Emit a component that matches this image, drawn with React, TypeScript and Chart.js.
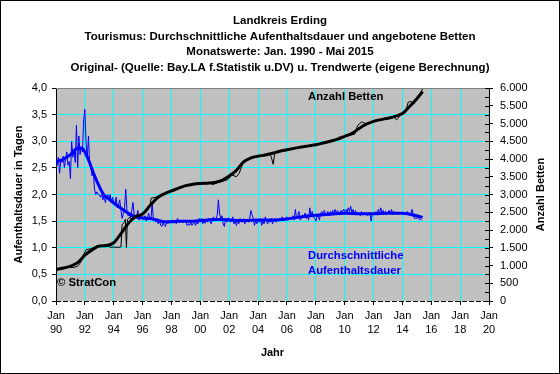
import React, { useEffect, useRef } from 'react';
import { Chart, registerables } from 'chart.js';

Chart.register(...registerables);

const FONT = '"Liberation Sans", Arial, sans-serif';

const TITLE_LINES = [
  'Landkreis Erding',
  'Tourismus: Durchschnittliche Aufenthaltsdauer und angebotene Betten',
  'Monatswerte: Jan. 1990 - Mai 2015',
  'Original- (Quelle: Bay.LA f.Statistik u.DV) u. Trendwerte (eigene Berechnung)',
];
const LEFT_AXIS_TITLE = 'Aufenthaltsdauer in Tagen';
const RIGHT_AXIS_TITLE = 'Anzahl Betten';
const X_AXIS_TITLE = 'Jahr';
const LABEL_BEDS = 'Anzahl Betten';
const LABEL_DUR = ['Durchschnittliche', 'Aufenthaltsdauer'];
const COPYRIGHT = '© StratCon';

const X_MIN = 1990;
const X_MAX = 2020;
const X_STEP = 2;
const Y_LEFT_MAX = 4;
const Y_LEFT_STEP = 0.5;
const Y_RIGHT_MAX = 6000;
const Y_RIGHT_STEP = 500;

// Monthly average length of stay (days), Jan 1990 - May 2015
const DUR_START_YEAR = 1990;
const durRaw = [
  2.62, 2.55, 2.70, 2.40, 2.65, 2.60, 2.72, 2.50, 2.68, 2.80, 2.55, 2.62,
  2.30, 3.00, 2.70, 2.85, 2.60, 3.30, 2.50, 3.10, 2.75, 2.90, 2.80, 3.40,
  3.60, 2.95, 2.70, 3.10, 2.55, 2.50, 2.35, 2.45, 2.10, 2.00, 2.05, 2.00,
  2.00, 1.95, 2.00, 1.90, 2.00, 1.85, 1.95, 2.00, 1.90, 2.00, 1.85, 1.95,
  1.85, 1.80, 1.95, 1.75, 1.80, 1.90, 1.70, 1.55, 1.65, 1.75, 2.10, 1.70,
  1.60, 1.65, 1.55, 1.70, 1.85, 1.62, 1.60, 1.55, 1.70, 1.52, 1.62, 1.55,
  1.58, 1.52, 1.60, 1.50, 1.55, 1.65, 1.52, 1.55, 1.85, 1.50, 1.55, 1.48,
  1.50, 1.45, 1.52, 1.42, 1.40, 1.48, 1.42, 1.40, 1.50, 1.45, 1.52, 1.48,
  1.50, 1.52, 1.48, 1.50, 1.45, 1.55, 1.50, 1.48, 1.52, 1.50, 1.47, 1.50,
  1.52, 1.42, 1.45, 1.42, 1.48, 1.42, 1.45, 1.50, 1.42, 1.48, 1.45, 1.55,
  1.48, 1.55, 1.45, 1.50, 1.46, 1.53, 1.48, 1.55, 1.50, 1.45, 1.52, 1.58,
  1.50, 1.55, 1.60, 1.90, 1.65, 1.55, 1.60, 1.45, 1.40, 1.55, 1.48, 1.56,
  1.55, 1.48, 1.52, 1.58, 1.45, 1.50, 1.42, 1.52, 1.45, 1.55, 1.50, 1.48,
  1.55, 1.45, 1.52, 1.50, 1.48, 1.55, 1.70, 1.62, 1.55, 1.42, 1.50, 1.45,
  1.52, 1.48, 1.55, 1.42, 1.50, 1.45, 1.58, 1.50, 1.45, 1.52, 1.48, 1.55,
  1.45, 1.50, 1.55, 1.48, 1.52, 1.50, 1.55, 1.52, 1.58, 1.55, 1.53, 1.56,
  1.58, 1.52, 1.55, 1.57, 1.55, 1.60, 1.52, 1.72, 1.55, 1.60, 1.68, 1.52,
  1.55, 1.62, 1.58, 1.65, 1.55, 1.60, 1.52, 1.75, 1.60, 1.68, 1.58, 1.55,
  1.50, 1.58, 1.62, 1.52, 1.65, 1.68, 1.62, 1.70, 1.65, 1.62, 1.68, 1.60,
  1.68, 1.62, 1.70, 1.65, 1.72, 1.66, 1.70, 1.68, 1.64, 1.70, 1.66, 1.72,
  1.68, 1.72, 1.66, 1.75, 1.68, 1.78, 1.65, 1.72, 1.64, 1.70, 1.62, 1.66,
  1.65, 1.60, 1.68, 1.62, 1.66, 1.64, 1.65, 1.60, 1.62, 1.66, 1.50, 1.64,
  1.65, 1.62, 1.68, 1.63, 1.72, 1.65, 1.75, 1.65, 1.70, 1.64, 1.68, 1.62,
  1.66, 1.70, 1.64, 1.72, 1.62, 1.68, 1.64, 1.66, 1.62, 1.67, 1.64, 1.66,
  1.65, 1.63, 1.66, 1.62, 1.68, 1.64, 1.66, 1.62, 1.72, 1.64, 1.55, 1.55,
  1.55, 1.60, 1.53, 1.54, 1.52,
];

// Trend of the average length of stay: [year, days]
const durTrend: [number, number][] = [
  [1990.0, 2.62], [1990.5, 2.66], [1991.0, 2.75], [1991.5, 2.87], [1991.8, 2.87],
  [1992.0, 2.80], [1992.3, 2.62], [1992.6, 2.40], [1993.0, 2.15], [1993.3, 2.00],
  [1993.6, 1.93], [1994.0, 1.84], [1994.5, 1.74], [1995.0, 1.65], [1995.5, 1.58],
  [1996.0, 1.56], [1996.5, 1.55], [1997.0, 1.52], [1997.5, 1.49], [1998.0, 1.49],
  [1998.5, 1.50], [1999.0, 1.50], [1999.5, 1.50], [2000.0, 1.51], [2000.5, 1.52],
  [2001.0, 1.53], [2001.5, 1.53], [2002.0, 1.52], [2003.0, 1.51], [2004.0, 1.52],
  [2005.0, 1.52], [2006.0, 1.54], [2007.0, 1.58], [2007.5, 1.60], [2008.0, 1.61],
  [2009.0, 1.63], [2010.0, 1.65], [2011.0, 1.64], [2012.0, 1.64], [2013.0, 1.65],
  [2014.0, 1.65], [2014.5, 1.63], [2015.0, 1.60], [2015.4, 1.57],
];

// Offered beds, original values: [year, beds]
const bedsRaw: [number, number][] = [
  [1990.0, 860], [1990.3, 900], [1990.6, 910], [1990.9, 950], [1991.2, 940],
  [1991.5, 980], [1991.7, 1080], [1991.9, 1300], [1992.1, 1450], [1992.4, 1470],
  [1992.6, 1510], [1992.9, 1560], [1993.2, 1560], [1993.5, 1560], [1993.8, 1510],
  [1994.0, 1520], [1994.3, 1510], [1994.5, 1520], [1994.58, 2150], [1994.7, 2200],
  [1994.8, 2300], [1994.88, 1500], [1994.95, 2300], [1995.1, 2350], [1995.3, 2400],
  [1995.6, 2420], [1995.9, 2440], [1996.2, 2500], [1996.5, 2700], [1996.6, 2900],
  [1996.9, 2920], [1997.1, 2950], [1997.4, 3000], [1997.8, 3080], [1998.2, 3120],
  [1998.6, 3180], [1999.0, 3240], [1999.4, 3280], [1999.8, 3300], [2000.2, 3300],
  [2000.6, 3320], [2000.9, 3280], [2001.2, 3340], [2001.6, 3380], [2001.9, 3420],
  [2002.2, 3550], [2002.5, 3500], [2002.7, 3600], [2003.0, 3950], [2003.3, 4000],
  [2003.6, 4020], [2004.0, 4080], [2004.4, 4100], [2004.7, 4150], [2004.9, 4080],
  [2005.05, 3850], [2005.15, 4150], [2005.4, 4200], [2005.8, 4230], [2006.3, 4280],
  [2006.8, 4320], [2007.3, 4360], [2007.8, 4390], [2008.3, 4420], [2008.8, 4480],
  [2009.3, 4520], [2009.8, 4600], [2010.3, 4660], [2010.7, 4700], [2010.9, 4950],
  [2011.2, 5050], [2011.5, 4980], [2011.8, 5020], [2012.2, 5080], [2012.6, 5120],
  [2013.0, 5150], [2013.4, 5180], [2013.6, 5100], [2013.9, 5250], [2014.2, 5300],
  [2014.4, 5600], [2014.6, 5620], [2014.8, 5550], [2015.0, 5700], [2015.2, 5800],
  [2015.4, 5980],
];

// Offered beds, trend: [year, beds]
const bedsTrend: [number, number][] = [
  [1990.0, 890], [1990.5, 930], [1991.0, 980], [1991.5, 1080], [1992.0, 1290],
  [1992.5, 1440], [1993.0, 1550], [1993.5, 1565], [1994.0, 1640], [1994.5, 1900],
  [1995.0, 2180], [1995.5, 2370], [1996.0, 2450], [1996.5, 2680], [1997.0, 2900],
  [1997.5, 3020], [1998.0, 3100], [1998.5, 3180], [1999.0, 3250], [1999.5, 3290],
  [2000.0, 3310], [2000.5, 3320], [2001.0, 3340], [2001.5, 3400], [2002.0, 3520],
  [2002.5, 3680], [2003.0, 3920], [2003.5, 4030], [2004.0, 4080], [2004.5, 4110],
  [2005.0, 4160], [2005.5, 4220], [2006.0, 4260], [2006.5, 4300], [2007.0, 4340],
  [2007.5, 4370], [2008.0, 4400], [2008.5, 4450], [2009.0, 4500], [2009.5, 4560],
  [2010.0, 4640], [2010.5, 4720], [2011.0, 4860], [2011.5, 4980], [2012.0, 5060],
  [2012.5, 5110], [2013.0, 5150], [2013.5, 5200], [2014.0, 5280], [2014.5, 5480],
  [2015.0, 5700], [2015.4, 5900],
];

const CYAN = '#00FFFF';
const PLOT_BG = '#C0C0C0';
const BLUE = '#0000FF';

function fmtThousands(v: number): string {
  if (v >= 1000) {
    return Math.floor(v / 1000) + '.' + String(v % 1000).padStart(3, '0');
  }
  return String(v);
}

const decoPlugin = {
  id: 'deco',
  beforeDraw(chart: any) {
    const { ctx, chartArea: a, width, height } = chart;
    ctx.save();
    ctx.fillStyle = '#FFFFFF';
    ctx.fillRect(0, 0, width, height);
    ctx.fillStyle = PLOT_BG;
    ctx.fillRect(a.left, a.top, a.right - a.left, a.bottom - a.top);
    ctx.restore();
  },
  afterDraw(chart: any) {
    const { ctx, chartArea: a, width, height } = chart;
    const y2 = chart.scales.y2;
    ctx.save();
    // top border of plot area
    ctx.strokeStyle = '#808080';
    ctx.lineWidth = 1;
    ctx.beginPath();
    ctx.moveTo(a.left, a.top + 0.5);
    ctx.lineTo(a.right, a.top + 0.5);
    ctx.stroke();
    // dashed bottom axis line
    ctx.strokeStyle = '#000';
    ctx.setLineDash([5, 2]);
    ctx.beginPath();
    ctx.moveTo(a.left, Math.round(a.bottom) + 0.5);
    ctx.lineTo(a.right, Math.round(a.bottom) + 0.5);
    ctx.stroke();
    ctx.setLineDash([]);
    // right axis inner ticks (major + minor)
    ctx.beginPath();
    for (let v = 0; v <= Y_RIGHT_MAX; v += Y_RIGHT_STEP / 2) {
      const py = Math.round(y2.getPixelForValue(v)) + 0.5;
      ctx.moveTo(a.right - 4, py);
      ctx.lineTo(a.right, py);
    }
    ctx.stroke();

    ctx.textBaseline = 'middle';
    ctx.fillStyle = '#000';
    ctx.textAlign = 'center';
    // titles
    ctx.font = 'bold 11.5px ' + FONT;
    const titleY = [21, 36.5, 52, 67.5];
    TITLE_LINES.forEach((t, i) => ctx.fillText(t, width / 2, titleY[i]));
    // axis titles
    ctx.font = 'bold 11px ' + FONT;
    ctx.fillText(X_AXIS_TITLE, (a.left + a.right) / 2, 353);
    const midY = (a.top + a.bottom) / 2;
    ctx.save();
    ctx.translate(19, midY);
    ctx.rotate(-Math.PI / 2);
    ctx.fillText(LEFT_AXIS_TITLE, 0, 0);
    ctx.restore();
    ctx.save();
    ctx.translate(541, midY);
    ctx.rotate(-Math.PI / 2);
    ctx.fillText(RIGHT_AXIS_TITLE, 0, 0);
    ctx.restore();
    // in-plot labels
    ctx.font = 'bold 11.3px ' + FONT;
    ctx.textAlign = 'left';
    ctx.fillText(LABEL_BEDS, 308, 97);
    ctx.fillText(COPYRIGHT, 57, 283);
    ctx.fillStyle = BLUE;
    ctx.fillText(LABEL_DUR[0], 308, 256);
    ctx.fillText(LABEL_DUR[1], 308, 271);
    // outer frame
    ctx.strokeStyle = '#000';
    ctx.strokeRect(0.5, 0.5, width - 1, height - 1);
    ctx.restore();
  },
};

export default function App() {
  const canvasRef = useRef<HTMLCanvasElement | null>(null);

  useEffect(() => {
    document.body.style.margin = '0';
    const canvas = canvasRef.current;
    if (!canvas) return;
    const chart = new Chart(canvas, {
      type: 'line',
      data: {
        datasets: [
          {
            label: 'Betten Trend',
            data: bedsTrend.map(([x, y]) => ({ x, y })),
            yAxisID: 'y2',
            borderColor: '#000',
            borderWidth: 3,
            pointRadius: 0,
            cubicInterpolationMode: 'monotone',
            order: 0,
          },
          {
            label: 'Aufenthaltsdauer Trend',
            data: durTrend.map(([x, y]) => ({ x, y })),
            yAxisID: 'y',
            borderColor: BLUE,
            borderWidth: 3,
            pointRadius: 0,
            cubicInterpolationMode: 'monotone',
            order: 1,
          },
          {
            label: 'Betten',
            data: bedsRaw.map(([x, y]) => ({ x, y })),
            yAxisID: 'y2',
            borderColor: '#000',
            borderWidth: 1,
            pointRadius: 0,
            order: 2,
          },
          {
            label: 'Aufenthaltsdauer',
            data: durRaw.map((y, i) => ({ x: DUR_START_YEAR + i / 12, y })),
            yAxisID: 'y',
            borderColor: BLUE,
            borderWidth: 1,
            pointRadius: 0,
            order: 3,
          },
        ],
      },
      options: {
        responsive: false,
        animation: false,
        devicePixelRatio: 1,
        layout: { padding: { top: 88, left: 0, right: 0, bottom: 0 } },
        plugins: {
          legend: { display: false },
          title: { display: false },
          tooltip: { enabled: false },
        },
        scales: {
          x: {
            type: 'linear',
            min: X_MIN,
            max: X_MAX,
            ticks: {
              stepSize: X_STEP,
              autoSkip: false,
              maxRotation: 0,
              color: '#000',
              padding: 4,
              font: { family: FONT, size: 11, lineHeight: 1.3 },
              callback: (v: any) => ['Jan', String(Number(v) % 100).padStart(2, '0')],
            },
            grid: { color: CYAN, lineWidth: 1, tickColor: '#000', tickLength: 4 },
            border: { display: false },
            afterFit: (s: any) => { s.height = 73; },
          },
          y: {
            position: 'left',
            min: 0,
            max: Y_LEFT_MAX,
            ticks: {
              stepSize: Y_LEFT_STEP,
              color: '#000',
              padding: 5,
              font: { family: FONT, size: 11 },
              callback: (v: any) => Number(v).toFixed(1).replace('.', ','),
            },
            grid: {
              color: (c: any) => (c.tick && c.tick.value === 0 ? 'rgba(0,0,0,0)' : CYAN),
              lineWidth: 1,
              tickColor: '#000',
              tickLength: 4,
            },
            border: { color: '#000' },
            afterFit: (s: any) => { s.width = 56; },
          },
          y2: {
            position: 'right',
            min: 0,
            max: Y_RIGHT_MAX,
            ticks: {
              stepSize: Y_RIGHT_STEP,
              color: '#000',
              padding: 7,
              font: { family: FONT, size: 11 },
              callback: (v: any) => fmtThousands(Number(v)),
            },
            grid: { drawOnChartArea: false, tickColor: '#000', tickLength: 4 },
            border: { color: '#000' },
            afterFit: (s: any) => { s.width = 71; },
          },
        },
      } as any,
      plugins: [decoPlugin],
    });
    return () => chart.destroy();
  }, []);

  return (
    <div style={{ width: 560, height: 374 }}>
      <canvas ref={canvasRef} width={560} height={374} style={{ display: 'block' }} />
    </div>
  );
}
